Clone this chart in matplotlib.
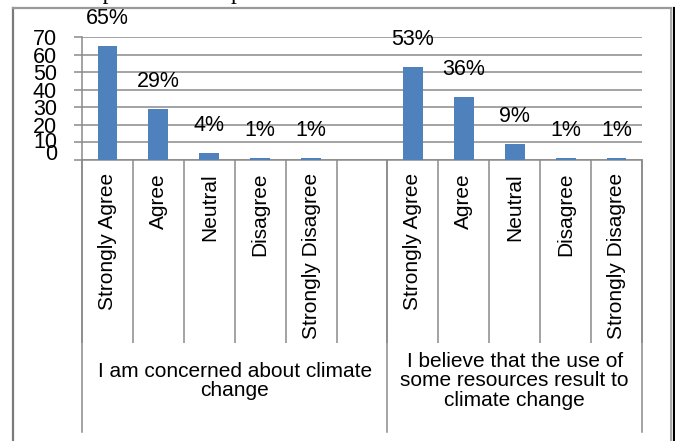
import matplotlib
matplotlib.use("Agg")
import matplotlib.pyplot as plt
from matplotlib.lines import Line2D
from matplotlib.transforms import ScaledTranslation

plt.rcParams['font.family'] = ['Liberation Sans', 'DejaVu Sans']

# survey answers, two statements side by side
answers = ["Strongly Agree", "Agree", "Neutral", "Disagree", "Strongly Disagree"]
concerned = [65, 29, 4, 1, 1]
resources = [53, 36, 9, 1, 1]
groups = ["I am concerned about climate\nchange",
          "I believe that the use of\nsome resources result to\nclimate change"]
yticks = [0, 10, 20, 30, 40, 50, 60, 70]

# first group has an empty slot after its five answers
labels = answers + [""] + answers
values = concerned + [None] + resources
n = len(labels)

W, H = 675, 441
fig = plt.figure(figsize=(W / 100, H / 100), dpi=100)
ax = fig.add_axes([82 / W, 1 - 160 / H, (642 - 82) / W, (160 - 37) / H])

grid_c = "#8a8a8a"
bar_c = "#4f81bd"
px = 0.72  # points per pixel

xs = [i for i, v in enumerate(values) if v is not None]
vs = [v for v in values if v is not None]
ax.bar(xs, vs, width=0.39, color=bar_c, zorder=3)

for x, v in zip(xs, vs):
    ax.annotate(f"{v}%", xy=(x, v), xytext=(0, 27.5 * px),
                textcoords="offset points", ha="center", va="center",
                fontsize=15.5)

ax.set_xlim(-0.5, n - 0.5)
ax.set_ylim(0, 70)
ax.set_yticks(yticks)
ax.yaxis.grid(True, color=grid_c, linewidth=1.1)
ax.set_axisbelow(True)
ax.tick_params(axis="y", direction="out", length=8 * px, width=1.1,
               color=grid_c, pad=17 * px, labelsize=15.5)

# the lowest two labels sit a little higher, squeezed against the axis
lift = {0: 8, 10: 2.5}
for t, lab in zip(yticks, ax.get_yticklabels()):
    if t in lift:
        lab.set_transform(lab.get_transform() +
                          ScaledTranslation(0, lift[t] / 100, fig.dpi_scale_trans))

# category labels under each slot
ax.set_xticks(range(n))
ax.set_xticklabels(labels, rotation=90, va="top", ha="center", fontsize=15)
ax.tick_params(axis="x", which="major", length=0, pad=13 * px)

# dividers between answer slots
ax.set_xticks([i - 0.5 for i in range(n + 1)], minor=True)
ax.tick_params(axis="x", which="minor", direction="out",
               length=183 * px, width=1.1, color=grid_c)

for s in ["top", "right"]:
    ax.spines[s].set_visible(False)
for s in ["left", "bottom"]:
    ax.spines[s].set_color(grid_c)
    ax.spines[s].set_linewidth(1.1)

# group boundaries and group titles
bounds = [-0.5, 5.5, n - 0.5]
for b in bounds:
    ax.plot([b, b], [0, -272 / 123], color=grid_c, linewidth=1.1,
            transform=ax.get_xaxis_transform(), clip_on=False)
for k, g in enumerate(groups):
    cx = (bounds[k] + bounds[k + 1]) / 2
    ax.annotate(g, xy=(cx, 0), xycoords=("data", "axes fraction"),
                xytext=(0, -221 * px), textcoords="offset points",
                ha="center", va="center", fontsize=15, linespacing=1.05)

# outer frame
def fline(x0, y0, x1, y1, c, lw):
    fig.add_artist(Line2D([x0 / W, x1 / W], [1 - y0 / H, 1 - y1 / H],
                          color=c, linewidth=lw, transform=fig.transFigure))

fline(13, 8, 13, H + 2, "#7a7a7a", 1.6)
fline(13, 8, 671, 8, "#9a9a9a", 1.6)
fline(670.5, 8, 670.5, H + 2, "#9a9a9a", 1.2)
fline(673.5, 8, 673.5, H + 2, "black", 1.6)

# caption line sitting above the chart, mostly beyond the top edge
fig.text(20 / W, 1 + 0.5 / H, "with the percent of respondents",
         family="Liberation Serif", fontsize=17, va="baseline", ha="left")

fig.savefig("out.png", dpi=100)
